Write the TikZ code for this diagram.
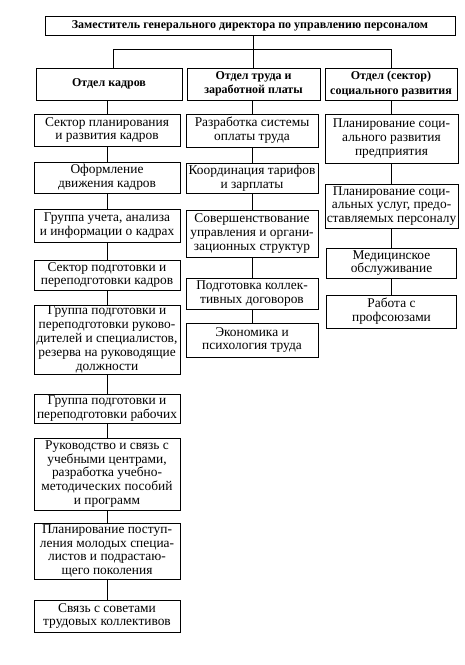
\documentclass[tikz,border=0pt]{standalone}
\usepackage{fontspec}
\setmainfont{Liberation Serif}
\begin{document}
\begin{tikzpicture}[x=1pt,y=-1pt,
  box/.style={draw, line width=0.9pt, inner sep=0pt, align=center, font=\fontsize{13.4}{13.8}\selectfont},
  head/.style={box, font=\bfseries\fontsize{12}{14.5}\selectfont},
  topbox/.style={box, font=\bfseries\fontsize{12}{13}\selectfont},
  link/.style={line width=0.9pt}]
\useasboundingbox[fill=white] (0,0) rectangle (464,665);
% top
\node[topbox, minimum width=410, minimum height=19] (top) at (250,25.5) {Заместитель генерального директора по управлению персоналом};
% departments
\node[head, minimum width=146, minimum height=32] (d1) at (109,84) {Отдел кадров};
\node[head, minimum width=133, minimum height=32] (d2) at (253.5,84) {Отдел труда и\\заработной платы};
\node[head, minimum width=132, minimum height=32] (d3) at (391,84) {Отдел (сектор)\\социального развития};
% column 1
\node[box, minimum width=146, minimum height=32] (k1) at (107,130) {Сектор планирования\\и развития кадров};
\node[box, minimum width=146, minimum height=31] (k2) at (107,177.5) {Оформление\\движения кадров};
\node[box, minimum width=146, minimum height=33] (k3) at (107,225.5) {Группа учета, анализа\\и информации о кадрах};
\node[box, minimum width=146, minimum height=30] (k4) at (107,275) {Сектор подготовки и\\переподготовки кадров};
\node[box, minimum width=146, minimum height=69] (k5) at (107,339.5) {Группа подготовки и\\переподготовки руково-\\дителей и специалистов,\\резерва на руководящие\\должности};
\node[box, minimum width=146, minimum height=29] (k6) at (107,408.5) {Группа подготовки и\\переподготовки рабочих};
\node[box, minimum width=146, minimum height=72] (k7) at (107,474) {Руководство и связь с\\учебными центрами,\\разработка учебно-\\методических пособий\\и программ};
\node[box, minimum width=146, minimum height=56] (k8) at (107,551) {Планирование поступ-\\ления молодых специа-\\листов и подрастаю-\\щего поколения};
\node[box, minimum width=146, minimum height=32] (k9) at (107,616) {Связь с советами\\трудовых коллективов};
% column 2
\node[box, minimum width=132, minimum height=33] (t1) at (252,130.5) {Разработка системы\\оплаты труда};
\node[box, minimum width=132, minimum height=30] (t2) at (252,178) {Координация тарифов\\и зарплаты};
\node[box, minimum width=132, minimum height=47] (t3) at (252,233.5) {Совершенствование\\управления и органи-\\зационных структур};
\node[box, minimum width=132, minimum height=31] (t4) at (252,293.5) {Подготовка коллек-\\тивных договоров};
\node[box, minimum width=132, minimum height=34] (t5) at (252,340) {Экономика и\\психология труда};
% column 3
\node[box, minimum width=133, minimum height=49] (s1) at (391.5,138.5) {Планирование соци-\\ального развития\\предприятия};
\node[box, minimum width=133, minimum height=44] (s2) at (391.5,206) {Планирование соци-\\альных услуг, предо-\\ставляемых персоналу};
\node[box, minimum width=130, minimum height=30] (s3) at (391.5,263) {Медицинское\\обслуживание};
\node[box, minimum width=130, minimum height=33] (s4) at (391.5,311.5) {Работа с\\профсоюзами};
% connectors
\coordinate (bl) at (113,49);
\coordinate (br) at (391,49);
\draw[link] (top.south -| d2.north) -- (d2.north);
\draw[link] (bl |- d1.north) -- (bl) -- (br) -- (br |- d3.north);
\draw[link] (k1.north) -- (k1.north |- d1.south);
\draw[link] (t1.north) -- (t1.north |- d2.south);
\draw[link] (s1.north) -- (s1.north |- d3.south);
\foreach \a/\b in {k1/k2,k2/k3,k3/k4,k4/k5,k5/k6,k6/k7,k7/k8,k8/k9,t1/t2,t2/t3,t3/t4,t4/t5,s1/s2,s2/s3,s3/s4}
  \draw[link] (\a.south) -- (\b.north);
\end{tikzpicture}
\end{document}
